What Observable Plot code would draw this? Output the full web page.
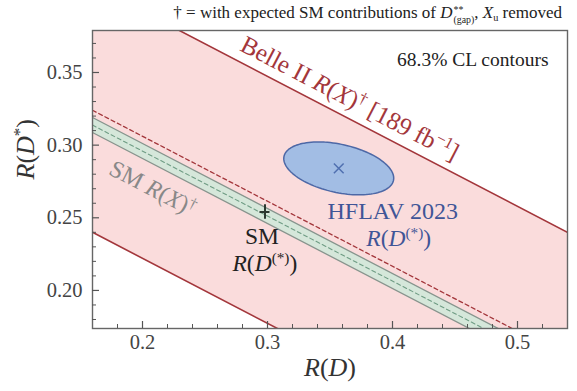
<!DOCTYPE html>
<html>
<head>
<meta charset="utf-8">
<script src="https://cdn.jsdelivr.net/npm/d3@7"></script>
<script src="https://cdn.jsdelivr.net/npm/@observablehq/plot@0.6"></script>
<style>
  body { margin: 0; background: #fff; font-family: "Liberation Serif", "Times New Roman", "DejaVu Serif", serif; }
  #caption { height: 24px; line-height: 26px; text-align: right; padding-right: 15px; font-size: 17px; color: #222; white-space: nowrap; }
  #caption .ss { display: inline-block; vertical-align: -0.5em; line-height: 1em; font-size: 0.58em; text-align: left; margin-left: 1px; }
  #caption .ss span { display: block; }
  #caption sub { font-size: 0.6em; vertical-align: -0.3em; line-height: 0; }
  svg text { font-family: "Liberation Serif", "Times New Roman", "DejaVu Serif", serif; }
</style>
</head>
<body>
<div id="caption">† = with expected SM contributions of <i>D</i><span class="ss"><span>**</span><span>(gap)</span></span>, <i>X</i><sub>u</sub> removed</div>
<div id="chart"></div>
<script>
// Axis ticks and their labels
const xTickLabels = ["0.2", "0.3", "0.4", "0.5"];
const yTickLabels = ["0.35", "0.30", "0.25", "0.20"];
const xMinorTicks = [0.18, 0.22, 0.24, 0.26, 0.28, 0.32, 0.34, 0.36, 0.38, 0.42, 0.44, 0.46, 0.48, 0.52];
const yMinorTicks = [0.18, 0.19, 0.21, 0.22, 0.23, 0.24, 0.26, 0.27, 0.28, 0.29, 0.31, 0.32, 0.33, 0.34, 0.36, 0.37];

// R(D) values at which each R(X) constraint line is evaluated
const rdEnds = [0.16, 0.54];
// Belle II R(X)† [189 fb^-1]: R(D*) along the band edges and the central line
const belleUpper = [0.410, 0.240];
const belleCentral = [0.324, 0.154];
const belleLower = [0.240, 0.070];
// SM R(X)†: R(D*) along the band edges and the central line
const smRXUpper = [0.3190, 0.1490];
const smRXCentral = [0.3138, 0.1438];
const smRXLower = [0.3087, 0.1387];

// HFLAV 2023 average: R(D), R(D*), their uncertainties and correlation
const hflavCenter = [0.357, 0.284];
const hflavSigma = [0.029, 0.012];
const hflavRho = -0.37;
const deltaChi2 = 2.30; // 68.3% CL for two parameters

// SM predictions for R(D), R(D*) with uncertainties
const smCenter = [0.298, 0.254];
const smSigma = [0.004, 0.005];

const line = (ys) => rdEnds.map((x, i) => ({x, y: ys[i]}));
const band = (lo, hi) => rdEnds.map((x, i) => ({x, y1: lo[i], y2: hi[i]}));

// 68.3% CL contour of the correlated Gaussian average
const k = Math.sqrt(deltaChi2);
const hflavContour = d3.range(0, 361, 3).map((deg) => {
  const t = (deg * Math.PI) / 180;
  return {
    x: hflavCenter[0] + k * hflavSigma[0] * Math.cos(t),
    y: hflavCenter[1] + k * hflavSigma[1] * (hflavRho * Math.cos(t) + Math.sqrt(1 - hflavRho ** 2) * Math.sin(t))
  };
});

const W = 577, H = 367;
const mL = 92, mR = 10, mT = 6, mB = 63;
const frameW = W - mL - mR, frameH = H - mT - mB;

const xTicks = xTickLabels.map(Number);
const yTicks = yTickLabels.map(Number);

const serif = "'Liberation Serif', 'Times New Roman', 'DejaVu Serif', serif";
const red = "#a3363b";
const blue = "#3f5597";
const tickColor = "#555";
const angle = 27.4;

const chart = Plot.plot({
  width: W,
  height: H,
  marginLeft: mL,
  marginRight: mR,
  marginTop: mT,
  marginBottom: mB,
  style: {fontFamily: serif, background: "#fff", overflow: "visible"},
  x: {domain: [0.16, 0.54], axis: null, label: null},
  y: {domain: [0.1738, 0.3789], axis: null, label: null},
  marks: [
    // Belle II R(X)† band
    Plot.areaY(band(belleLower, belleUpper), {x: "x", y1: "y1", y2: "y2", fill: "#fadcdc", clip: true}),
    // SM R(X)† band
    Plot.areaY(band(smRXLower, smRXUpper), {x: "x", y1: "y1", y2: "y2", fill: "#d5e7da", clip: true}),
    Plot.line(line(belleUpper), {x: "x", y: "y", stroke: red, strokeWidth: 1.6, clip: true}),
    Plot.line(line(belleLower), {x: "x", y: "y", stroke: red, strokeWidth: 1.6, clip: true}),
    Plot.line(line(belleCentral), {x: "x", y: "y", stroke: red, strokeWidth: 1.3, strokeDasharray: "4,3", clip: true}),
    Plot.line(line(smRXUpper), {x: "x", y: "y", stroke: "#87948d", strokeWidth: 1.3, clip: true}),
    Plot.line(line(smRXLower), {x: "x", y: "y", stroke: "#87948d", strokeWidth: 1.3, clip: true}),
    Plot.line(line(smRXCentral), {x: "x", y: "y", stroke: "#6f9c84", strokeWidth: 1.1, strokeDasharray: "4,3", clip: true}),
    // HFLAV 2023 contour and central value
    Plot.line(hflavContour, {x: "x", y: "y", fill: "#a2bde4", stroke: "#4d68a6", strokeWidth: 1.5}),
    Plot.dot([hflavCenter], {x: (d) => d[0], y: (d) => d[1], symbol: "times", r: 4.5, stroke: "#5070b0", strokeWidth: 1.5}),
    // SM R(D), R(D*) point with uncertainties
    Plot.ruleX([smCenter], {x: (d) => d[0], y1: (d) => d[1] - smSigma[1], y2: (d) => d[1] + smSigma[1], stroke: "#2b3830", strokeWidth: 2}),
    Plot.ruleY([smCenter], {y: (d) => d[1], x1: (d) => d[0] - smSigma[0], x2: (d) => d[0] + smSigma[0], stroke: "#2b3830", strokeWidth: 2}),
    // Frame and inward ticks
    Plot.frame({stroke: "#666", strokeWidth: 1.4}),
    Plot.tickX(xTicks, {x: (d) => d, insetTop: frameH - 7, stroke: tickColor, strokeWidth: 1.2}),
    Plot.tickX(xMinorTicks, {x: (d) => d, insetTop: frameH - 4, stroke: tickColor, strokeWidth: 1}),
    Plot.tickY(yTicks, {y: (d) => d, insetRight: frameW - 7, stroke: tickColor, strokeWidth: 1.2}),
    Plot.tickY(yMinorTicks, {y: (d) => d, insetRight: frameW - 4, stroke: tickColor, strokeWidth: 1}),
    Plot.axisX(xTicks, {label: null, tickSize: 0, tickPadding: 6, fontSize: 20.5, color: "#444", tickFormat: (d) => xTickLabels[xTicks.indexOf(d)]}),
    Plot.axisY(yTicks, {label: null, tickSize: 0, tickPadding: 10, fontSize: 20.5, color: "#444", tickFormat: (d) => yTickLabels[yTicks.indexOf(d)]}),
    // Axis titles
    Plot.text(["<i>R</i>(<i>D</i>)"], {frameAnchor: "bottom", dy: 47, fontSize: 26, fill: "#333"}),
    Plot.text(["<i>R</i>(<i>D</i><sup>*</sup>)"], {frameAnchor: "left", dx: -67, rotate: -90, fontSize: 26, fill: "#333"}),
    // Annotations
    Plot.text(["68.3% CL contours"], {x: 0.54, y: 0.3585, dx: -19, textAnchor: "end", fontSize: 19.5, fill: "#222"}),
    Plot.text(["Belle II <i>R</i>(<i>X</i>)<sup>†</sup> [189 fb<sup>−1</sup>]"], {x: 0.3658, y: 0.3321, rotate: angle, fontSize: 25, fill: red}),
    Plot.text(["SM <i>R</i>(<i>X</i>)<sup>†</sup>"], {x: 0.2082, y: 0.2702, rotate: angle, fontSize: 24, fill: "#888"}),
    Plot.text(["SM"], {x: 0.2956, y: 0.2371, fontSize: 23.5, fill: "#222"}),
    Plot.text(["<i>R</i>(<i>D</i><sup>(*)</sup>)"], {x: 0.2979, y: 0.2185, fontSize: 23.5, fill: "#222"}),
    Plot.text(["HFLAV 2023"], {x: 0.4002, y: 0.2543, fontSize: 24, fill: blue}),
    Plot.text(["<i>R</i>(<i>D</i><sup>(*)</sup>)"], {x: 0.405, y: 0.2358, fontSize: 23.5, fill: blue})
  ]
});

// Turn the small markup in label strings into styled tspans
function richText(svg) {
  d3.select(svg).selectAll("text").each(function () {
    const src = this.textContent;
    if (!src.includes("<")) return;
    this.textContent = "";
    const re = /<(i|sup|sub)>(.*?)<\/\1>|[^<]+/g;
    let m;
    while ((m = re.exec(src))) {
      const t = d3.select(this).append("tspan");
      if (!m[1]) {
        t.text(m[0]);
      } else {
        t.text(m[2]);
        if (m[1] === "i") t.attr("font-style", "italic");
        else t.attr("font-size", "65%").attr("baseline-shift", m[1] === "sup" ? "super" : "sub");
      }
    }
  });
}
richText(chart);
document.getElementById("chart").append(chart);
</script>
</body>
</html>
